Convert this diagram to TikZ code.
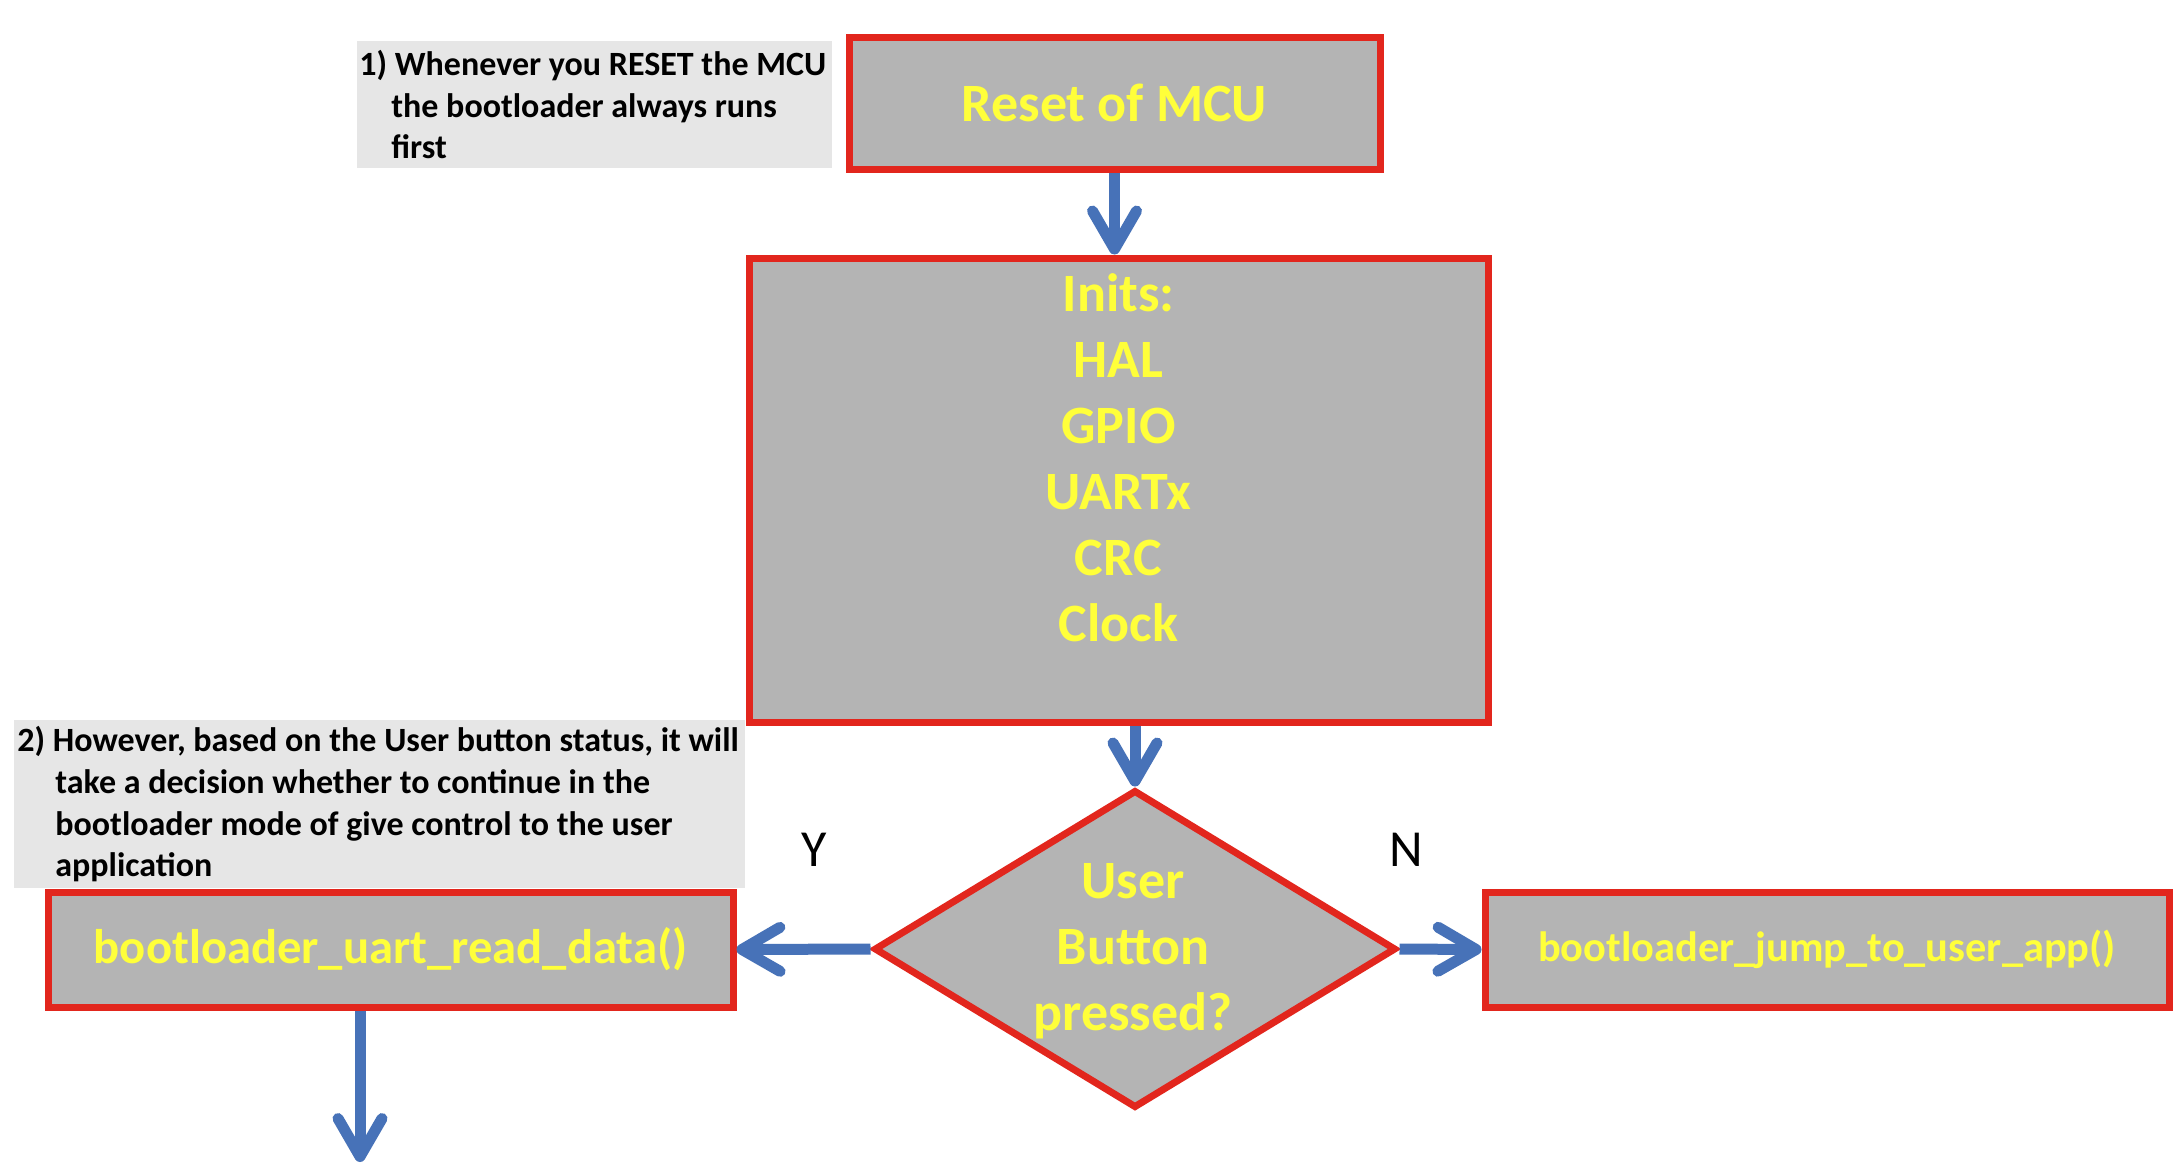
\documentclass[tikz,border=0pt]{standalone}
\usepackage{fontspec}
\setmainfont{Carlito}
\usetikzlibrary{arrows.meta,shapes.geometric}
\definecolor{boxgray}{HTML}{B4B4B4}
\definecolor{boxred}{HTML}{E2261D}
\definecolor{txtyellow}{HTML}{FFFF3A}
\definecolor{arrblue}{HTML}{4772B8}
\definecolor{notegray}{HTML}{E6E6E6}
\begin{document}
\begin{tikzpicture}[x=0.5pt,y=-0.5pt,
 procbox/.style={draw=boxred, line width=3.5pt, fill=boxgray, inner sep=0pt, text=txtyellow, font=\bfseries\fontsize{27}{33}\selectfont, align=center},
 decbox/.style={diamond, draw=boxred, line width=3.5pt, fill=boxgray, inner sep=0pt},
 yeltext/.style={text=txtyellow, font=\bfseries\fontsize{27}{33}\selectfont, align=center, inner sep=0pt},
 notebox/.style={fill=notegray, inner sep=0pt, anchor=north west},
 notetext/.style={inner sep=0pt, align=left, anchor=west, font=\bfseries\fontsize{17}{20.8}\selectfont},
 flow/.style={draw=arrblue, line width=5.5pt, -{Straight Barb[length=19pt,width=22pt,round]}},
 yn/.style={font=\fontsize{26}{30}\selectfont, inner sep=0pt}]

\fill[white] (0,0) rectangle (2174,1174);
\useasboundingbox (0,0) rectangle (2174,1174);

% notes
\node[notebox, minimum width=237.5pt, minimum height=63.5pt] (note1) at (357,41) {};
\node[notetext] (note1text) at ([xshift=1pt]note1.west) {1) Whenever you RESET the MCU\\\hspace*{16pt}the bootloader always runs\\\hspace*{16pt}first};

\node[notebox, minimum width=365.5pt, minimum height=84pt] (note2) at (14,720) {};
\node[notetext] (note2text) at ([xshift=1.5pt]note2.west) {2) However, based on the User button status, it will\\\hspace*{19pt}take a decision whether to continue in the\\\hspace*{19pt}bootloader mode of give control to the user\\\hspace*{19pt}application};

% process boxes
\node[procbox, minimum width=265.5pt, minimum height=66pt] (reset) at (1114.5,103) {Reset of MCU};

\node[procbox, minimum width=369.5pt, minimum height=232pt] (inits) at (1118.5,490) {};
\node[yeltext, yshift=16pt] (initstext) at (inits.center) {Inits:\\HAL\\GPIO\\UARTx\\CRC\\Clock};

\node[decbox, minimum width=261pt, minimum height=159pt] (dec) at (1135,949) {};
\node[yeltext] (dectext) at (1133,951) {User\\Button\\pressed?};

\node[procbox, font=\bfseries\fontsize{24.3}{30}\selectfont, minimum width=342.5pt, minimum height=57.5pt] (uart) at (390.5,949.5) {bootloader\_uart\_read\_data()};
\node[procbox, font=\bfseries\fontsize{21.2}{26}\selectfont, minimum width=342pt, minimum height=57.5pt] (jump) at (1827,949.5) {bootloader\_jump\_to\_user\_app()};

% labels
\node[yn] (ylab) at (814,850) {Y};
\node[yn] (nlab) at (1406,850) {N};

% connectors
\draw[flow] (reset.south) -- (reset.south |- inits.north);
\draw[flow] (inits.south -| dec.north) -- (dec.north);
\draw[flow] (dec.west) -- (uart.east);
\draw[flow] (dec.east) -- (jump.west);
\coordinate (uartout) at (360,1162);
\draw[flow] (uartout |- uart.south) -- (uartout);
\end{tikzpicture}
\end{document}
